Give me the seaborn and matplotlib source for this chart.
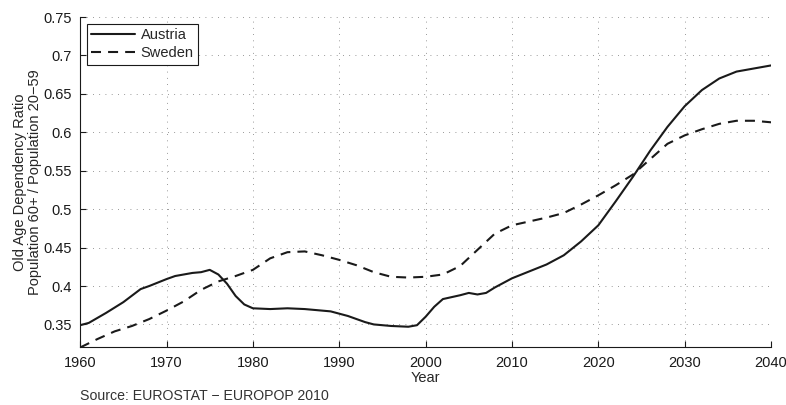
import matplotlib
matplotlib.use("Agg")
import matplotlib.pyplot as plt
import seaborn as sns

#%% DATA
austria_years = [1960, 1961, 1963, 1965, 1967, 1968, 1970, 1971, 1973, 1974,
                 1975, 1976, 1977, 1978, 1979, 1980, 1982, 1984, 1986, 1989,
                 1991, 1993, 1994, 1996, 1998, 1999, 2000, 2001, 2002, 2004,
                 2005, 2006, 2007, 2008, 2010, 2012, 2014, 2016, 2018, 2020,
                 2022, 2024, 2026, 2028, 2030, 2032, 2034, 2036, 2038, 2040]
austria_ratio = [0.349, 0.352, 0.365, 0.379, 0.396, 0.400, 0.409, 0.413, 0.417, 0.418,
                 0.421, 0.415, 0.403, 0.387, 0.376, 0.371, 0.370, 0.371, 0.370, 0.367,
                 0.361, 0.353, 0.350, 0.348, 0.347, 0.349, 0.360, 0.373, 0.383, 0.388,
                 0.391, 0.389, 0.391, 0.398, 0.410, 0.419, 0.428, 0.440, 0.458, 0.479,
                 0.510, 0.542, 0.576, 0.607, 0.634, 0.655, 0.670, 0.679, 0.683, 0.687]

sweden_years = [1960, 1962, 1964, 1966, 1968, 1970, 1972, 1974, 1976, 1978,
                1980, 1982, 1984, 1986, 1988, 1990, 1992, 1994, 1996, 1998,
                2000, 2002, 2004, 2006, 2008, 2010, 2012, 2014, 2016, 2018,
                2020, 2022, 2024, 2026, 2028, 2030, 2032, 2034, 2036, 2038, 2040]
sweden_ratio = [0.320, 0.331, 0.341, 0.348, 0.357, 0.368, 0.380, 0.395, 0.406, 0.413,
                0.421, 0.436, 0.444, 0.445, 0.440, 0.434, 0.427, 0.418, 0.412, 0.411,
                0.412, 0.415, 0.426, 0.447, 0.468, 0.479, 0.484, 0.489, 0.495, 0.506,
                0.518, 0.531, 0.545, 0.565, 0.585, 0.596, 0.604, 0.611, 0.615, 0.615, 0.613]

x_ticks = [1960, 1970, 1980, 1990, 2000, 2010, 2020, 2030, 2040]
y_ticks = [0.35, 0.4, 0.45, 0.5, 0.55, 0.6, 0.65, 0.7, 0.75]
y_tick_labels = ["0.35", "0.4", "0.45", "0.5", "0.55", "0.6", "0.65", "0.7", "0.75"]

#%% STYLE
sns.set_style("ticks")
plt.rcParams["font.family"] = ["Liberation Sans", "DejaVu Sans"]
plt.rcParams["font.size"] = 10

#%% PLOT
fig, ax = plt.subplots(figsize=(7.86, 4.05), dpi=100)
fig.subplots_adjust(left=0.102, right=0.981, top=0.958, bottom=0.142)

sns.lineplot(x=austria_years, y=austria_ratio, ax=ax, color="#1a1a1a",
             linewidth=1.5, label="Austria")
sns.lineplot(x=sweden_years, y=sweden_ratio, ax=ax, color="#1a1a1a",
             linewidth=1.5, linestyle=(0, (4.8, 3.4)), label="Sweden")

ax.set_xlim(1960, 2040)
ax.set_ylim(0.32, 0.75)
ax.set_xticks(x_ticks)
ax.set_yticks(y_ticks)
ax.set_yticklabels(y_tick_labels)
ax.tick_params(direction="in", length=4, width=0.8, colors="#1a1a1a",
               labelsize=10.5, pad=6)
ax.grid(True, linestyle=(0, (1, 6.5)), color="#777777", linewidth=0.6)

for side in ["top", "right"]:
    ax.spines[side].set_visible(False)
for side in ["left", "bottom"]:
    ax.spines[side].set_color("#1a1a1a")
    ax.spines[side].set_linewidth(0.8)

ax.set_xlabel("Year", fontsize=10.5, labelpad=1)
ax.set_ylabel("Old Age Dependency Ratio\nPopulation 60+ / Population 20\u221259",
              fontsize=10.5, labelpad=1, linespacing=1.05)

leg = ax.legend(loc="upper left", fontsize=10.5, frameon=True, fancybox=False,
                handlelength=3.0, borderpad=0.3, labelspacing=0.3,
                borderaxespad=0.45, handletextpad=0.4)
leg.get_frame().set_edgecolor("#1a1a1a")
leg.get_frame().set_linewidth(0.8)
leg.get_frame().set_alpha(1)

fig.text(0.102, 0.012, "Source: EUROSTAT \u2212 EUROPOP 2010", fontsize=10.2,
         color="#333333", va="baseline")

fig.savefig("out.png", dpi=100)
